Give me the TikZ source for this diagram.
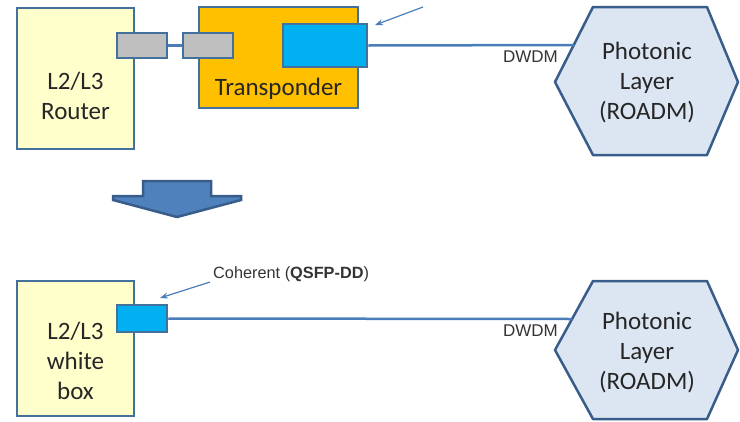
\documentclass[tikz,border=0pt]{standalone}
\usepackage{fontspec}
\setmainfont{Carlito}
\newfontfamily\arialf{Liberation Sans}
\usetikzlibrary{arrows.meta}
\definecolor{bordc}{HTML}{41719C}
\definecolor{linec}{HTML}{4A7EBB}
\definecolor{yelf}{HTML}{FFFFCC}
\definecolor{orf}{HTML}{FFC000}
\definecolor{cyf}{HTML}{00B0F0}
\definecolor{gryf}{HTML}{BFBFBF}
\definecolor{hexf}{HTML}{DCE6F2}
\definecolor{hexb}{HTML}{385D8A}
\definecolor{arrf}{HTML}{4F81BD}
\tikzset{
  boxs/.style={draw=bordc, line width=2.5pt, inner sep=0pt, minimum width=#1},
  bigtxt/.style={font=\fontsize{25}{30}\selectfont, align=center, inner sep=0pt, text=black!85},
  smalltxt/.style={font=\arialf\fontsize{16.3}{18}\selectfont, inner sep=0pt, text=black!80},
  link/.style={draw=linec, line width=2.5pt},
  pointer/.style={draw=linec, line width=1.2pt, -{Stealth[length=8pt,width=6pt]}},
  hexs/.style={draw=hexb, line width=2.5pt, fill=hexf, line join=round},
}
\begin{document}
\begin{tikzpicture}[x=1pt,y=-1pt]
\useasboundingbox (0,0) rectangle (740,421);
% ---------- top ----------
\node[boxs=117pt, minimum height=141pt, fill=yelf] (router) at (75.5,78.5) {};
\node[boxs=159pt, minimum height=101pt, fill=orf] (transp) at (278.5,57.5) {};
\node[boxs=50pt, minimum height=25pt, fill=gryf] (g1) at (142,45.5) {};
\node[boxs=50pt, minimum height=25pt, fill=gryf] (g2) at (208,45.5) {};
\node[boxs=84pt, minimum height=43pt, fill=cyf] (cy1) at (325,45.5) {};
\node[bigtxt] (routertxt) at (75.5,96) {L2/L3\\Router};
\node[bigtxt] (transptxt) at (278.5,89) {Transponder};
\draw[hexs] (555,82) -- (593,7) -- (707,7) -- (738,82) -- (707,155) -- (593,155) -- cycle;
\node[bigtxt] (hex1txt) at (647,83) {Photonic\\Layer\\(ROADM)};
\coordinate (hex1in) at (574,45);
\draw[link] (g1.east) -- (g2.west);
\draw[link] (cy1.east) -- (hex1in);
\node[smalltxt, anchor=base east, font=\arialf\fontsize{17}{18}\selectfont] (dwdm1) at (558,62) {DWDM};
\coordinate (p1s) at (423,7);
\coordinate (p1e) at (375,25);
\draw[pointer] (p1s) -- (p1e);
% ---------- block arrow ----------
\draw[draw=hexb, line width=2.5pt, fill=arrf, line join=miter]
  (143,181) -- (211,181) -- (211,196) -- (241,196) -- (241,200) -- (177,217)
  -- (113,200) -- (113,196) -- (143,196) -- cycle;
% ---------- bottom ----------
\node[boxs=117pt, minimum height=135pt, fill=yelf] (wbox) at (75.5,348.5) {};
\node[boxs=50pt, minimum height=27pt, fill=cyf] (cy2) at (142,318.5) {};
\node[bigtxt] (wboxtxt) at (75.5,361) {L2/L3\\white\\box};
\draw[hexs] (555,350) -- (593,281) -- (707,281) -- (738,350) -- (707,419) -- (593,419) -- cycle;
\node[bigtxt] (hex2txt) at (647,353) {Photonic\\Layer\\(ROADM)};
\coordinate (hex2in) at (572,319);
\draw[link] (cy2.east) -- (hex2in);
\node[smalltxt, anchor=base east, font=\arialf\fontsize{17}{18}\selectfont] (dwdm2) at (558,336) {DWDM};
\node[smalltxt, anchor=base west] (coh) at (213,278) {Coherent (\textbf{QSFP-DD})};
\coordinate (p2s) at (210,282);
\coordinate (p2e) at (160,298);
\draw[pointer] (p2s) -- (p2e);
\end{tikzpicture}
\end{document}
